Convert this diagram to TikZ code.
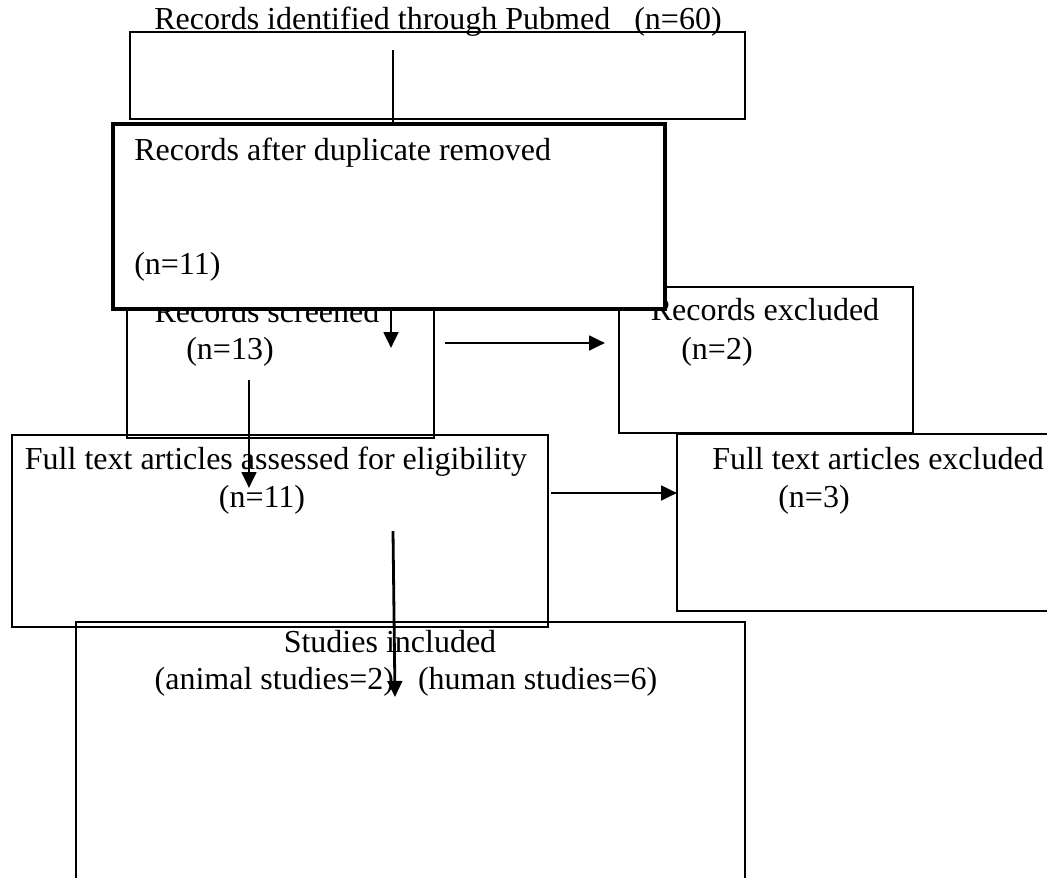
\documentclass[tikz,border=0pt]{standalone}
\usepackage{fontspec}
\setmainfont{Liberation Serif}
\usetikzlibrary{arrows.meta}

\begin{document}
\begin{tikzpicture}[x=0.75pt,y=-0.75pt,
		box/.style={draw,rectangle,line width=1.6pt,inner sep=0pt},
		lbl/.style={inner sep=0pt,font=\fontsize{24}{28}\selectfont},
		arr/.style={line width=2.1pt,-{Triangle[length=12pt,width=11pt]}}]

		\useasboundingbox (0,0) rectangle (1047,878);

		% boxes that lie underneath
		\node [box,minimum width=461.25pt,minimum height=65.25pt] (pubmed) at (437.5,75.5) {};
		\node [box,minimum width=230.25pt,minimum height=111pt] (screened) at (280.5,364) {};
		\node [box,minimum width=220.5pt,minimum height=109.5pt] (excl) at (766,360) {};
		\node [lbl,anchor=mid] (tscreen) at (267,319) {Records screened};
		\node [lbl,anchor=mid] (texcl) at (765,317) {Records excluded};

		% duplicates box on top
		\node [box,fill=white,line width=2.3pt,minimum width=414pt,minimum height=138.75pt] (dedup) at (389,216.5) {};
		\node [lbl,anchor=mid west] (tdedup) at (134,157) {Records after duplicate removed};
		\node [lbl,anchor=mid west] (ndedup) at (134,271) {(n=11)};

		\node [lbl,anchor=mid] (tpubmed) at (438,26) {Records identified through Pubmed \ \ (n=60)};
		\node [lbl,anchor=mid] (nscreen) at (230,356) {(n=13)};
		\node [lbl,anchor=mid] (nexcl) at (717,356) {(n=2)};

		\node [box,minimum width=402pt,minimum height=144pt] (fulltext) at (280,531) {};
		\node [box,minimum width=294.75pt,minimum height=132.75pt] (ftexcl) at (873.5,522.5) {};
		\node [box,minimum width=501.75pt,minimum height=208.5pt] (included) at (410.5,761) {};

		\node [lbl,anchor=mid] (tfull) at (276,466) {Full text articles assessed for eligibility};
		\node [lbl,anchor=mid] (nfull) at (262,504) {(n=11)};
		\node [lbl,anchor=mid] (tftexcl) at (878,466) {Full text articles excluded};
		\node [lbl,anchor=mid] (nftexcl) at (814,504) {(n=3)};
		\node [lbl,anchor=mid] (tincl) at (390,649) {Studies included};
		\node [lbl,anchor=mid] (nincl) at (406,686) {(animal studies=2) \ \ (human studies=6)};

		% connector ends
		\coordinate (p1) at (393,50);
		\coordinate (p2) at (393,123);
		\coordinate (s1) at (391,309);
		\coordinate (s2) at (391,348);
		\coordinate (r1) at (445,343);
		\coordinate (r2) at (605,343);
		\coordinate (f1) at (249,380);
		\coordinate (f2) at (249,488);
		\coordinate (e1) at (551,493);
		\coordinate (e2) at (677,493);
		\coordinate (i1) at (393,531);
		\coordinate (i2) at (395,697);

		\draw [line width=2.1pt] (p1) -- (p2);
		\draw [arr] (s1) -- (s2);
		\draw [arr] (r1) -- (r2);
		\draw [arr] (f1) -- (f2);
		\draw [arr] (e1) -- (e2);
		\draw [arr] (i1) -- (i2);
	\end{tikzpicture}
\end{document}
